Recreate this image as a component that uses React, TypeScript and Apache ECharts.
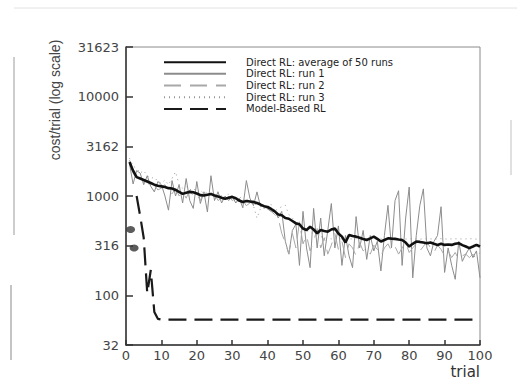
import React, { useEffect, useRef } from "react";
import * as echarts from "echarts";

const seriesNames = [
  "Direct RL: average of 50 runs",
  "Direct RL: run 1",
  "Direct RL: run 2",
  "Direct RL: run 3",
  "Model-Based RL",
];

const yTickLabels = ["32", "100", "316", "1000", "3162", "10000", "31623"];

const avgRuns = [
  2200, 1800, 1550, 1500, 1450, 1400, 1350, 1300, 1270, 1250,
  1230, 1200, 1190, 1150, 1100, 1050, 1080, 1100, 1090, 1060,
  1020, 1010, 1030, 1050, 1010, 990, 960, 940, 960, 980,
  950, 900, 870, 890, 880, 870, 850, 820, 790, 775,
  740, 700, 650, 640, 600, 590, 560, 530, 520, 470,
  455, 490, 460, 421, 454, 445, 437, 460, 472, 420,
  390, 340, 405, 395, 390, 380, 370, 361, 375, 390,
  370, 348, 361, 375, 372, 370, 365, 361, 340, 310,
  330, 348, 345, 340, 335, 340, 330, 322, 330, 322,
  325, 322, 330, 335, 320, 310, 299, 310, 322, 310,
];

const run1 = [
  2100, 1320, 1800, 1700, 1300, 1600, 1250, 1100, 1400, 1300,
  1000, 720, 1430, 1000, 1300, 850, 1500, 900, 750, 1400,
  840, 1100, 690, 1600, 900, 1100, 850, 1000, 900, 1000,
  850, 950, 760, 1430, 950, 800, 1100, 780, 800, 740,
  700, 720, 600, 700, 350, 260, 450, 520, 200, 700,
  300, 190, 750, 300, 600, 250, 450, 840, 300, 500,
  200, 400, 250, 190, 620, 300, 450, 230, 400, 280,
  350, 176, 400, 805, 300, 900, 1130, 200, 600, 1230,
  150, 400, 800, 1180, 300, 250, 350, 400, 780, 170,
  300, 200, 145, 350, 220, 260, 300, 240, 280, 150,
];

const run2 = [
  2300, 1700, 1500, 1600, 1350, 1450, 1200, 1300, 1150, 1200,
  1300, 1100, 1050, 1200, 1000, 1100, 950, 1150, 1000, 1050,
  900, 1100, 950, 1000, 1050, 900, 950, 850, 1000, 900,
  950, 850, 900, 800, 850, 900, 780, 800, 750, 780,
  700, 650, 600, 420, 340, 260, 420, 300, 550, 330,
  400, 280, 350, 470, 300, 380, 260, 320, 420, 290,
  350, 240, 330, 300, 250, 340, 280, 300, 260, 320,
  290, 250, 300, 330, 280, 310, 260, 300, 340, 270,
  300, 330, 280, 310, 350, 300, 270, 320, 290, 250,
  280, 240, 270, 230, 250, 260, 240, 260, 230, 270,
];

const run3 = [
  2400, 2000, 1900, 1700, 1800, 1600, 1500, 1550, 1400, 1350,
  1450, 1300, 1500, 1750, 1300, 1200, 1250, 1150, 1200, 1100,
  1150, 1050, 1100, 1000, 1050, 1100, 1000, 950, 1050, 1000,
  950, 1000, 900, 950, 880, 800, 600, 750, 800, 760,
  820, 700, 750, 780, 805, 650, 600, 550, 500, 480,
  450, 430, 420, 400, 390, 380, 375, 370, 372, 368,
  370, 371, 369, 370, 372, 370, 368, 370, 371, 370,
  369, 370, 372, 370, 368, 370, 371, 370, 369, 370,
  372, 370, 368, 370, 371, 370, 369, 370, 372, 370,
  368, 370, 371, 370, 369, 370, 372, 370, 368, 370,
];

const modelBased = [
  null, null, 1000, 630, 380, 105, 180, 68, 58, 57,
  57, 57, 57, 57, 57, 57, 57, 57, 57, 57,
  57, 57, 57, 57, 57, 57, 57, 57, 57, 57,
  57, 57, 57, 57, 57, 57, 57, 57, 57, 57,
  57, 57, 57, 57, 57, 57, 57, 57, 57, 57,
  57, 57, 57, 57, 57, 57, 57, 57, 57, 57,
  57, 57, 57, 57, 57, 57, 57, 57, 57, 57,
  57, 57, 57, 57, 57, 57, 57, 57, 57, 57,
  57, 57, 57, 57, 57, 57, 57, 57, 57, 57,
  57, 57, 57, 57, 57, 57, 57, 57, 57, 57,
];

// first two model-based trials, drawn as dots
const modelFirstTrials = [1.3, 2.3];
const modelFirstCosts = [460, 300];

const toPairs = (arr: (number | null)[]) =>
  arr.map((v, i) => [i + 1, v]);

export default function App() {
  const ref = useRef<HTMLDivElement>(null);

  useEffect(() => {
    if (!ref.current) return;
    const chart = echarts.init(ref.current, undefined, { renderer: "svg" });
    const tickFont = "DejaVu Sans";
    const option: any = {
      animation: false,
      backgroundColor: "#ffffff",
      grid: {
        left: 126,
        right: 37,
        top: 47,
        bottom: 31,
        show: true,
        borderColor: "#8a8a8a",
        borderWidth: 1,
        backgroundColor: "transparent",
      },
      legend: {
        orient: "vertical",
        left: 163,
        top: 56.5,
        padding: 0,
        itemWidth: 62,
        itemHeight: 11.3,
        itemGap: 0.4,
        data: seriesNames,
        itemStyle: { opacity: 0, borderWidth: 0 },
        textStyle: {
          fontFamily: tickFont,
          fontSize: 10,
          color: "#222",
          lineHeight: 11.3,
          padding: [0, 0, 0, 15],
        },
      },
      xAxis: {
        type: "value",
        min: 0,
        max: 100,
        interval: 10,
        name: "trial",
        nameLocation: "end",
        nameGap: 0,
        nameTextStyle: {
          fontFamily: tickFont,
          fontSize: 15,
          color: "#333",
          align: "right",
          verticalAlign: "top",
          padding: [19, 0, 0, 0],
        },
        axisLine: { show: true, lineStyle: { color: "#333", width: 1.5 } },
        axisTick: { show: true, inside: true, length: 5, lineStyle: { color: "#333", width: 1.5 } },
        axisLabel: { margin: 4, fontFamily: tickFont, fontSize: 13, color: "#444" },
        splitLine: { show: false },
      },
      yAxis: {
        type: "log",
        logBase: Math.sqrt(10),
        min: Math.pow(10, 1.5),
        max: Math.pow(10, 4.5),
        axisLine: { show: true, lineStyle: { color: "#333", width: 1.5 } },
        axisTick: { show: true, inside: true, length: 7, lineStyle: { color: "#333", width: 1.5 } },
        axisLabel: {
          margin: 7,
          fontFamily: tickFont,
          fontSize: 13,
          color: "#444",
          formatter: (v: number) => {
            const idx = Math.round((Math.log10(v) - 1.5) / 0.5);
            return yTickLabels[idx] ?? String(Math.round(v));
          },
        },
        splitLine: { show: false },
      },
      graphic: [
        {
          type: "text",
          x: 55,
          y: 100,
          rotation: Math.PI / 2,
          style: {
            text: "cost/trial (log scale)",
            fontFamily: "Liberation Sans",
            fontSize: 14,
            fill: "#444",
            align: "center",
            verticalAlign: "middle",
          },
        },
        { type: "line", shape: { x1: 14, y1: 57, x2: 14, y2: 235 }, style: { stroke: "#cdcdcd", lineWidth: 2 } },
        { type: "line", shape: { x1: 11, y1: 285, x2: 11, y2: 360 }, style: { stroke: "#c4c4c4", lineWidth: 2 } },
        { type: "line", shape: { x1: 14, y1: 8, x2: 517, y2: 8 }, style: { stroke: "#e2e2e2", lineWidth: 1 } },
        { type: "line", shape: { x1: 511, y1: 120, x2: 511, y2: 175 }, style: { stroke: "#d6d6d6", lineWidth: 1.5 } },
      ],
      series: [
        {
          name: seriesNames[1],
          type: "line",
          symbol: "none",
          data: toPairs(run1),
          lineStyle: { color: "#8c8c8c", width: 1 },
          itemStyle: { color: "#8c8c8c" },
          z: 2,
        },
        {
          name: seriesNames[2],
          type: "line",
          symbol: "none",
          data: toPairs(run2),
          lineStyle: { color: "#a8a8a8", width: 1, type: [17, 9] },
          itemStyle: { color: "#a8a8a8" },
          z: 2,
        },
        {
          name: seriesNames[3],
          type: "line",
          symbol: "none",
          data: toPairs(run3),
          lineStyle: { color: "#999", width: 1, type: [1, 4] },
          itemStyle: { color: "#999" },
          z: 2,
        },
        {
          name: seriesNames[0],
          type: "line",
          symbol: "none",
          data: toPairs(avgRuns),
          lineStyle: { color: "#111", width: 2.6 },
          itemStyle: { color: "#111" },
          z: 3,
        },
        {
          name: seriesNames[4],
          type: "line",
          symbol: "none",
          data: toPairs(modelBased),
          lineStyle: { color: "#1a1a1a", width: 2.2, type: [18, 8] },
          itemStyle: { color: "#1a1a1a" },
          z: 3,
        },
        {
          name: "Model-Based RL (trials 1-2)",
          type: "scatter",
          symbol: "circle",
          symbolSize: [9, 7],
          data: modelFirstTrials.map((t, i) => [t, modelFirstCosts[i]]),
          itemStyle: { color: "#333" },
          z: 4,
        },
      ],
    };
    chart.setOption(option);
    return () => chart.dispose();
  }, []);

  return (
    <div
      ref={ref}
      style={{ position: "fixed", left: 0, top: 0, width: 517, height: 379 }}
    />
  );
}
